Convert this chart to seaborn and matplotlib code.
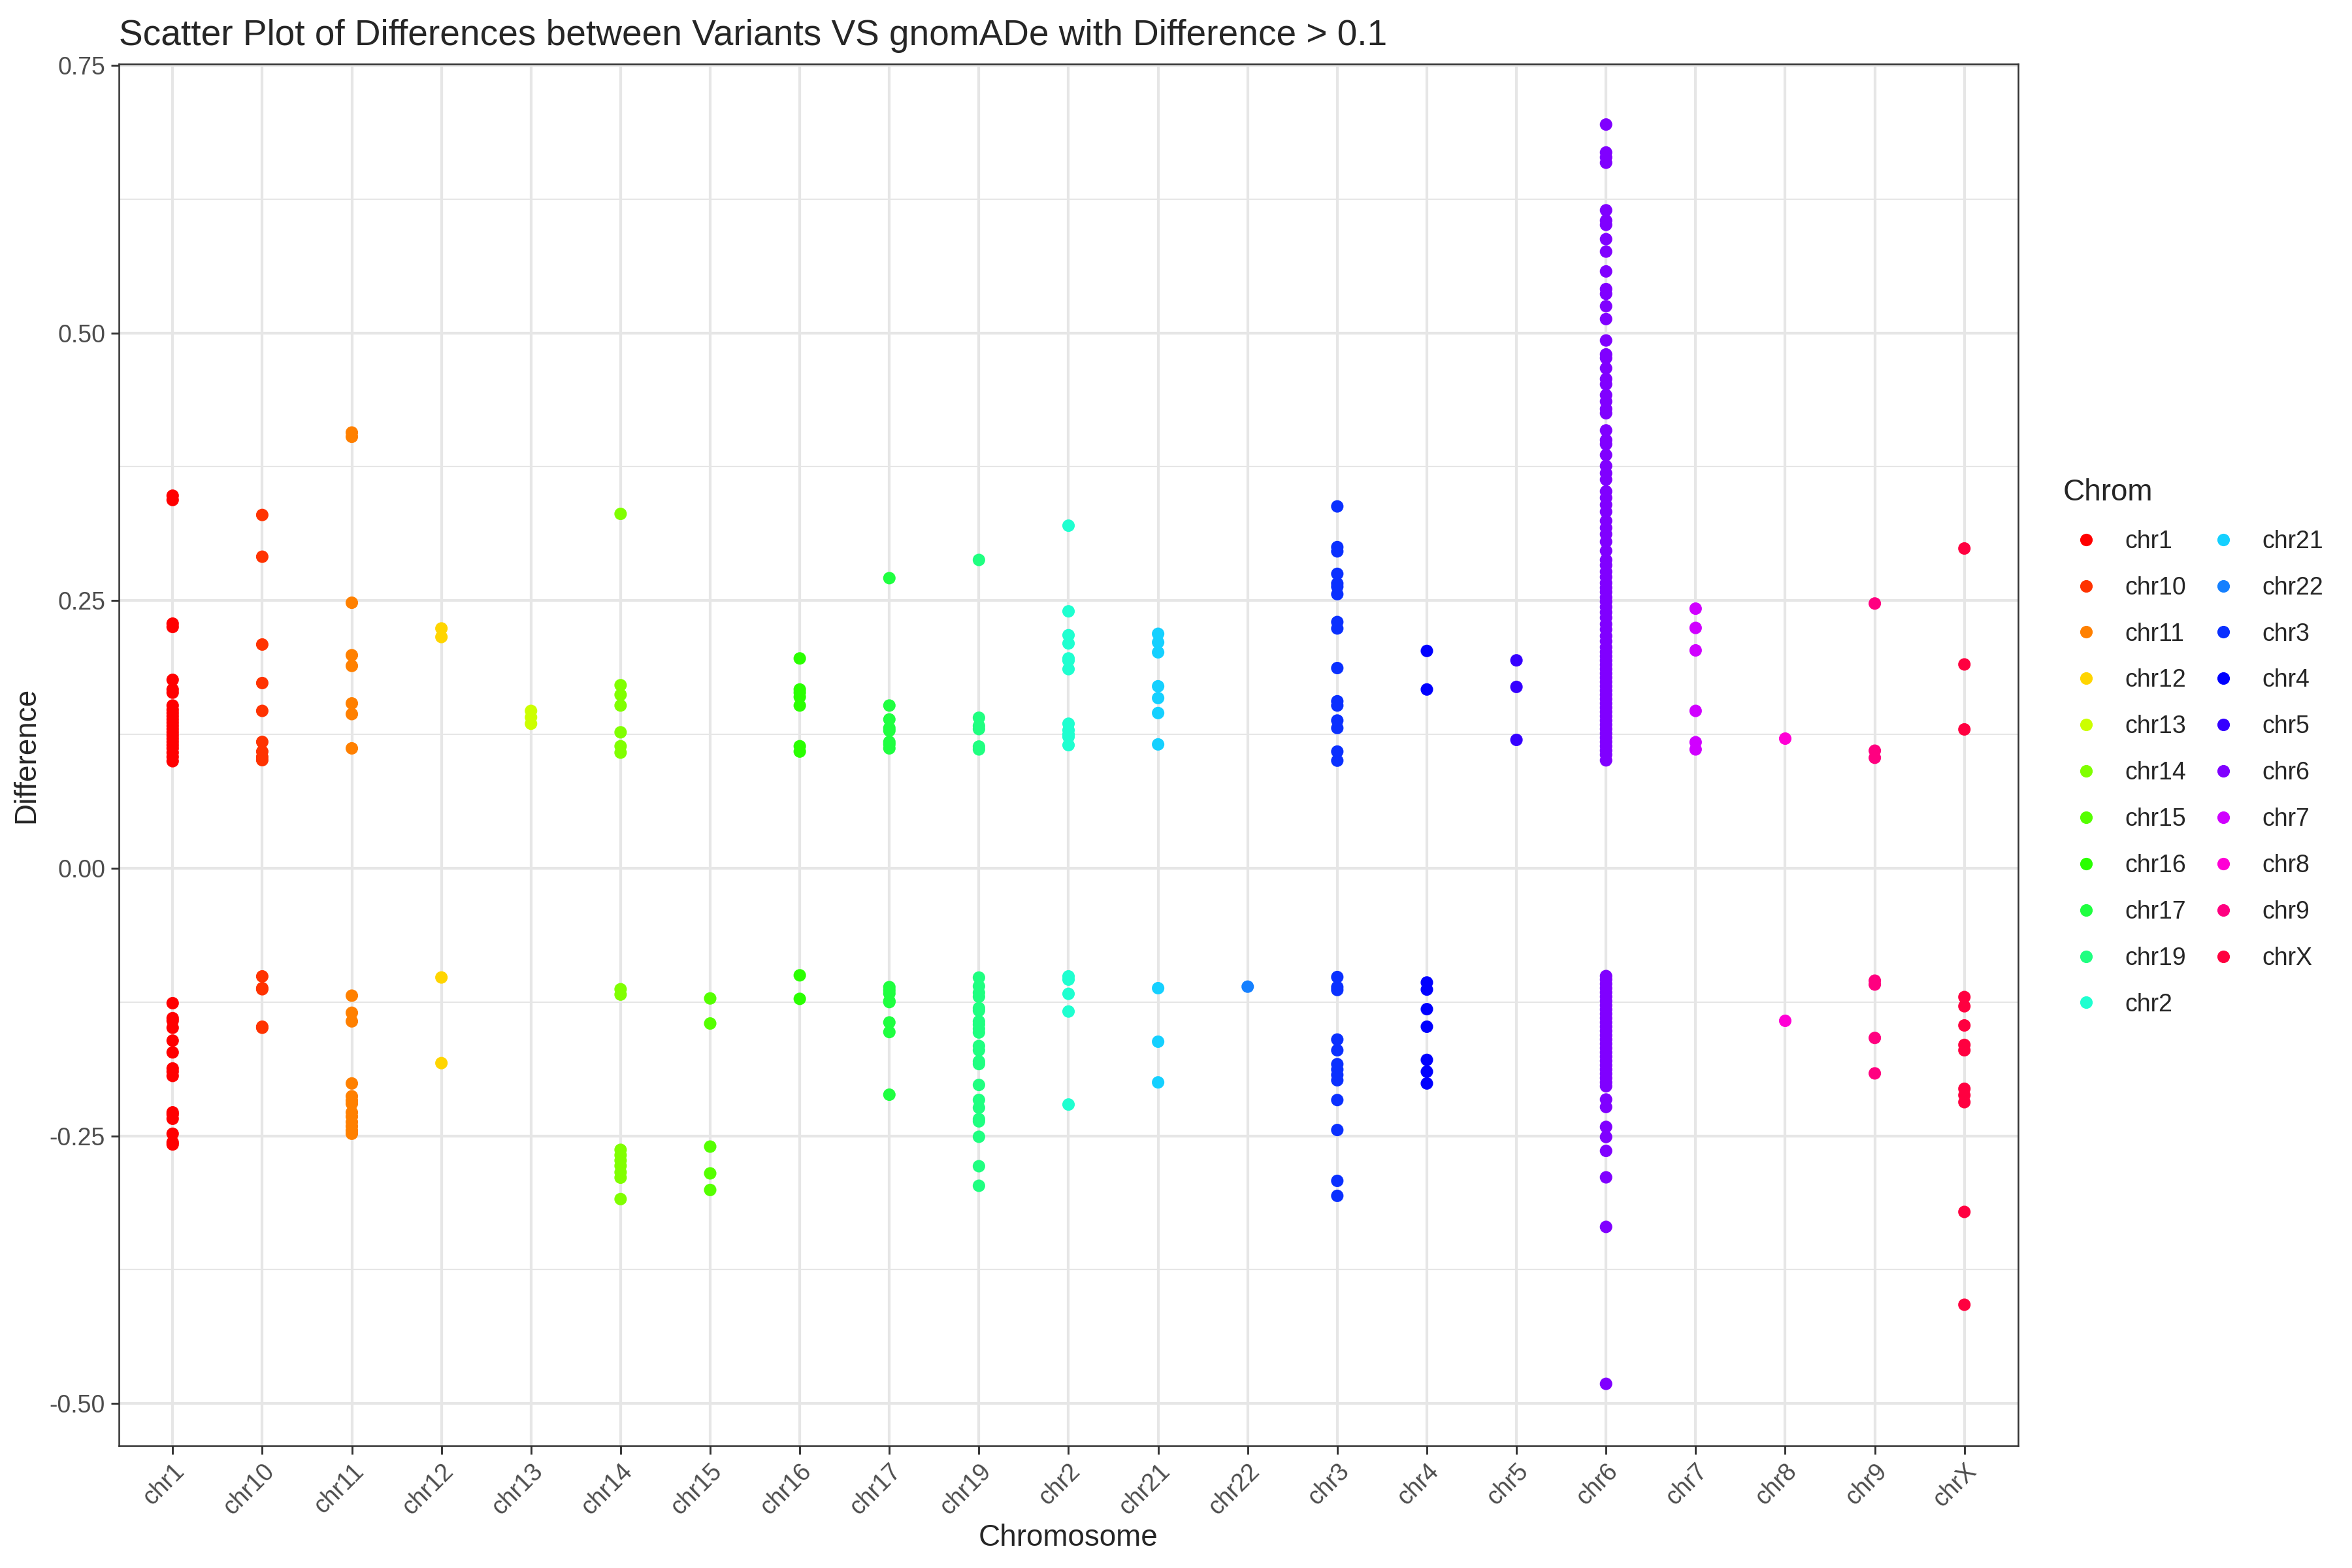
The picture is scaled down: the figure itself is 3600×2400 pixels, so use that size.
import numpy as np
import pandas as pd
import matplotlib
matplotlib.use("Agg")
import matplotlib.pyplot as plt
from matplotlib.ticker import MultipleLocator
import seaborn as sns

# values, one list per chromosome
chrom_order = ["chr1", "chr10", "chr11", "chr12", "chr13", "chr14", "chr15", "chr16",
               "chr17", "chr19", "chr2", "chr21", "chr22", "chr3", "chr4", "chr5",
               "chr6", "chr7", "chr8", "chr9", "chrX"]

chrom_colors = ["#FF0000", "#FF3300", "#FF8000", "#FFD500", "#CCFF00", "#80FF00", "#55FF00",
                "#2AFF00", "#1FFF40", "#1FFF80", "#1FFFD0", "#15D0FF", "#1580FF", "#0A30FF",
                "#0000FF", "#3500FF", "#8000FF", "#D000FF", "#FF00D5", "#FF0080", "#FF0040"]

chr1 = [.348, .344, .2285, .2254, .176, .167, .164, .152, .148, .145, .142, .139, .136, .133,
        .130, .127, .124, .121, .118, .115, .112, .108, .104, .100,
        -.126, -.140, -.1425, -.149, -.161, -.172, -.187, -.190, -.194, -.228, -.230, -.234,
        -.248, -.256, -.258]
chr10 = [.330, .291, .209, .173, .147, .118, .109, .104, .101,
         -.101, -.112, -.113, -.148, -.149]
chr11 = [.407, .403, .248, .199, .189, .154, .144, .112,
         -.119, -.135, -.143, -.201, -.213, -.217, -.220, -.228, -.232, -.237, -.241, -.245, -.248]
chr12 = [.224, .216, -.102, -.182]
chr13 = [.147, .141, .135]
chr14 = [.331, .171, .162, .152, .127, .114, .108,
         -.113, -.118, -.263, -.268, -.273, -.278, -.284, -.289, -.309]
chr15 = [-.1216, -.145, -.260, -.285, -.3005]
chr16 = [.196, .167, .164, .160, .152, .114, .109, -.100, -.122]
chr17 = [.271, .152, .139, .131, .1285, .118, .1157, .112,
         -.111, -.114, -.117, -.124, -.125, -.144, -.153, -.2115]
chr19 = [.288, .1406, .133, .130, .1137, .111,
         -.1021, -.1102, -.1163, -.120, -.1306, -.133, -.143, -.146, -.150, -.1534, -.166, -.170,
         -.1804, -.1829, -.2024, -.2164, -.2237, -.2343, -.2364, -.2508, -.2783, -.2966]
chr2 = [.320, .240, .2177, .210, .196, .194, .186, .135, .129, .125, .1227, .115,
        -.101, -.104, -.1173, -.1338, -.2207]
chr21 = [.219, .211, .2017, .170, .159, .145, .1157, -.112, -.162, -.200]
chr22 = [-.1106]
chr3 = [.338, .300, .296, .275, .266, .263, .256, .230, .224, .187, .156, .152, .138, .131,
        .109, .1005,
        -.1016, -.111, -.1137, -.160, -.170, -.183, -.188, -.193, -.198, -.2165, -.2445, -.292, -.306]
chr4 = [.203, .167, -.1067, -.1133, -.1316, -.148, -.179, -.190, -.201]
chr5 = [.1942, .1694, .1199]
chr6 = [.6947, .6686, .664, .659, .6146, .605, .601, .5876, .576, .5575, .541, .5365, .525, .513,
        .493, .480, .4765, .467, .457, .452, .442, .436, .429, .425, .409, .400, .396, .386,
        .3758, .369, .363, .352, .346, .3395, .333, .3245, .318, .312, .305, .2965, .288, .283,
        .277, .272, .2665, .262, .258, .253, .249, .244, .239, .234, .228, .223, .217, .212,
        .2065, .202, .198, .194, .190, .186, .182, .178, .174, .170, .166, .162, .158, .154,
        .150, .146, .142, .138, .134, .130, .126, .122, .118, .114, .110, .106, .1008,
        -.1007, -.104, -.108, -.112, -.116, -.120, -.124, -.128, -.132, -.136, -.140, -.144,
        -.148, -.152, -.156, -.160, -.164, -.168, -.172, -.176, -.180, -.184, -.188, -.192,
        -.196, -.200, -.2036, -.216, -.223, -.2416, -.251, -.264, -.2887, -.335, -.4816]
chr7 = [.2425, .2245, .2035, .147, .1177, .111]
chr8 = [.1211, -.1425]
chr9 = [.2473, .1098, .1032, -.105, -.1086, -.1585, -.1916]
chrX = [.2987, .1904, .1297, -.1203, -.1289, -.1468, -.165, -.170, -.206, -.212, -.2185, -.321, -.4077]

chrom_values = [chr1, chr10, chr11, chr12, chr13, chr14, chr15, chr16, chr17, chr19, chr2, chr21,
                chr22, chr3, chr4, chr5, chr6, chr7, chr8, chr9, chrX]

y_ticks = [-0.50, -0.25, 0.00, 0.25, 0.50, 0.75]

df = pd.concat([pd.DataFrame({"Chrom": name, "Difference": vals})
                for name, vals in zip(chrom_order, chrom_values)], ignore_index=True)

sns.set_style("white")
plt.rcParams['font.family'] = ['Liberation Sans', 'DejaVu Sans']

fig = plt.figure(figsize=(12, 8), dpi=300)
W, H = 3600, 2400
ax = fig.add_axes([182 / W, 1 - 2213 / H, (3089 - 182) / W, (2213 - 98) / H])

sns.scatterplot(data=df, x="Chrom", y="Difference", hue="Chrom", hue_order=chrom_order,
                palette=chrom_colors, s=21, linewidth=0, ax=ax, zorder=3, clip_on=True)

ax.set_xlim(-0.6, 20.6)
ax.set_ylim(-0.5395, 0.7512)

# theme_bw style grid
ax.set_axisbelow(True)
ax.yaxis.set_major_locator(MultipleLocator(0.25))
ax.yaxis.set_minor_locator(MultipleLocator(0.125))
ax.grid(True, which="major", color="#E6E6E6", lw=1.0)
ax.grid(True, which="minor", axis="y", color="#E6E6E6", lw=0.5)
for s in ax.spines.values():
    s.set_visible(True)
    s.set_color("#333333")
    s.set_linewidth(0.6)

ax.set_yticks(y_ticks)
ax.set_yticklabels([f"{t:.2f}" for t in y_ticks])
ax.tick_params(axis="both", which="major", length=3, width=0.7, color="#333333",
               labelcolor="#4D4D4D", labelsize=9, left=True, bottom=True, pad=2)
ax.tick_params(axis="y", which="minor", length=0)
ax.set_xticks(range(len(chrom_order)))
ax.set_xticklabels(chrom_order, rotation=45, ha="right", va="top", rotation_mode="anchor")

ax.set_xlabel("Chromosome", fontsize=11, labelpad=1.5)
ax.set_ylabel("Difference", fontsize=11, labelpad=3.3)
ax.set_title("Scatter Plot of Differences between Variants VS gnomADe with Difference > 0.1",
             fontsize=13.2, loc="left", pad=7)

handles, labels = ax.get_legend_handles_labels()
ax.legend_.remove()
for h in handles:
    h.set_markersize(4.6)
    h.set_markeredgewidth(0)
leg = fig.legend(handles, labels, title="Chrom", ncol=2, frameon=False, fontsize=9,
                 title_fontsize=11, loc="upper left", bbox_to_anchor=(3158 / W, 1 - 732 / H),
                 labelspacing=0.93, columnspacing=0.57, handletextpad=0.65,
                 handlelength=1.87, borderaxespad=0, borderpad=0)
leg._legend_box.align = "left"

fig.savefig("out.png", dpi=300, facecolor="white")
